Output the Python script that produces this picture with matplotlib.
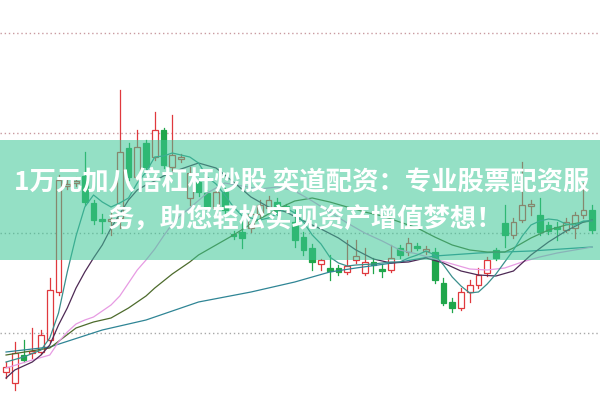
import matplotlib.pyplot as plt
from matplotlib.patches import Rectangle

plt.rcParams['font.family'] = ['Noto Sans CJK SC', 'DejaVu Sans']

# K线数据（开 / 高 / 低 / 收）
opens = [6.1, 5.0, 7.8, 8.0, 8.1, 9.3, 14.1, 24.7, 25.0, 25.7,
         23.0, 21.4, 21.2, 21.5, 28.5, 25.6, 29.0, 27.6, 30.3, 26.6,
         27.4, 23.5, 25.1, 24.0, 22.5, 24.1, 19.9, 20.1, 20.5, 21.9,
         22.5, 23.1, 22.7, 21.1, 19.6, 18.5, 16.9, 16.5, 16.5, 16.1,
         17.3, 16.0, 17.1, 16.4, 16.3, 18.5, 18.1, 18.7, 18.2, 18.1,
         15.0, 13.1, 12.5, 14.1, 14.8, 16.0, 18.3, 21.0, 19.8, 21.3,
         22.7, 21.8, 20.8, 20.6, 20.3, 20.5, 21.8, 22.3]
highs = [7.1, 9.1, 9.3, 10.5, 10.3, 15.5, 25.8, 25.4, 25.6, 28.1,
         23.3, 21.9, 22.0, 34.3, 29.0, 30.3, 29.3, 32.1, 30.5, 31.8,
         27.9, 26.6, 25.5, 24.3, 24.5, 24.5, 20.2, 21.3, 22.3, 23.3,
         23.7, 23.5, 22.9, 22.3, 20.1, 18.9, 17.4, 17.8, 16.8, 19.3,
         19.3, 18.5, 17.5, 16.9, 18.8, 18.8, 19.5, 19.0, 18.7, 18.5,
         15.5, 13.5, 14.5, 15.3, 16.5, 17.6, 18.5, 22.8, 21.5, 27.1,
         23.3, 23.5, 21.1, 21.1, 21.5, 22.1, 25.0, 22.8]
lows = [5.5, 4.3, 7.1, 7.5, 7.9, 9.1, 13.8, 24.4, 24.7, 22.8,
        20.9, 20.0, 19.8, 20.5, 25.3, 25.3, 26.3, 27.3, 26.5, 26.3,
        27.1, 22.8, 23.7, 22.3, 22.1, 21.9, 19.4, 18.5, 20.1, 21.5,
        22.2, 21.8, 22.1, 18.6, 17.8, 16.3, 16.3, 15.3, 15.8, 15.9,
        17.0, 15.8, 16.0, 15.6, 16.1, 17.5, 17.8, 18.3, 17.9, 15.0,
        12.8, 12.1, 12.3, 13.1, 14.5, 15.7, 17.3, 18.6, 19.5, 21.1,
        21.8, 19.8, 19.9, 19.3, 20.1, 19.5, 21.5, 20.0]
closes = [6.6, 8.0, 7.3, 8.2, 9.8, 14.3, 25.3, 24.9, 25.2, 23.1,
          21.3, 21.2, 21.4, 28.1, 25.6, 28.6, 26.6, 30.3, 26.8, 27.8,
          27.6, 26.0, 24.1, 22.6, 24.1, 22.3, 19.7, 19.5, 21.9, 22.8,
          23.3, 22.1, 22.4, 19.3, 18.3, 17.1, 17.3, 16.2, 16.1, 16.7,
          17.7, 17.1, 16.8, 16.2, 17.5, 17.8, 19.0, 18.5, 18.4, 15.3,
          13.0, 12.5, 14.1, 14.8, 15.8, 17.3, 17.5, 19.8, 21.1, 22.8,
          22.9, 20.1, 20.2, 20.4, 21.1, 21.8, 22.3, 20.3]

# 均线（在图上读取的点）
ma5_x = [0, 2, 4, 5, 6, 7, 8, 9, 10, 11, 12, 13, 14, 15, 16, 17, 18, 19, 20,
         21, 22, 23, 24, 25, 26, 27, 28, 29, 30, 31, 32, 33, 34, 35, 36, 37,
         38, 39, 40, 42, 44, 45, 46, 47, 48, 49, 50, 51, 52, 53, 54, 55, 56,
         57, 58, 59, 60, 61, 62, 63, 64, 65, 66, 67]
ma5_y = [7.1, 7.6, 8.3, 9.5, 12.0, 16.1, 19.7, 22.6, 23.8, 23.1, 22.6, 23.0,
         23.5, 25.0, 26.1, 27.6, 27.7, 28.0, 27.8, 27.6, 27.0, 25.6, 24.9,
         23.8, 22.6, 21.7, 21.5, 21.3, 21.5, 21.9, 22.5, 22.0, 21.1, 19.8,
         18.9, 17.6, 17.0, 16.7, 16.8, 16.9, 17.1, 17.1, 17.5, 17.8, 18.2,
         17.8, 16.8, 15.6, 14.7, 14.0, 14.1, 14.9, 15.9, 17.1, 18.3, 19.7,
         20.8, 21.2, 21.4, 21.3, 20.9, 20.8, 21.2, 21.2]

ma10_x = [0, 1, 2, 3, 4, 5, 6, 7, 8, 9, 10, 11, 12, 13, 14, 15, 16, 17, 18,
          20, 22, 24, 26, 28, 30, 32, 34, 36, 38, 40, 42, 44, 46, 48, 50, 52,
          54, 56, 58, 60, 62, 64, 66, 67]
ma10_y = [5.5, 6.3, 6.7, 7.1, 7.8, 8.8, 10.8, 12.5, 14.5, 16.1, 17.5, 18.8,
          20.5, 21.9, 23.3, 24.3, 24.8, 25.2, 25.7, 26.4, 27.0, 26.5, 25.1,
          23.6, 22.6, 22.1, 21.2, 20.4, 19.5, 18.3, 17.4, 17.0, 17.1, 17.5,
          17.0, 16.2, 15.8, 15.7, 16.2, 17.8, 19.1, 20.2, 21.1, 21.3]

ma20_x = [0, 3, 5, 6, 7, 8, 9, 10, 11, 12, 13, 14, 15, 16, 17, 18, 19, 20,
          21, 23, 25, 27, 29, 31, 33, 35, 37, 39, 41, 43, 45, 47, 49, 51, 53,
          55, 57, 59, 61, 63, 65, 67]
ma20_y = [6.5, 7.3, 7.8, 9.1, 10.1, 10.9, 11.3, 11.6, 12.2, 12.8, 13.7, 15.0,
          16.3, 17.3, 18.4, 19.7, 20.9, 21.8, 22.5, 24.0, 25.0, 24.7, 24.4,
          24.6, 24.2, 23.2, 22.1, 21.0, 20.0, 19.2, 18.3, 17.9, 17.4, 16.9,
          16.4, 16.3, 16.5, 17.1, 17.6, 18.0, 18.3, 18.6]

ma30_x = [0, 5, 8, 10, 12, 14, 16, 17, 19, 21, 22, 24, 26, 28, 29, 31, 33,
          35, 37, 39, 41, 43, 45, 47, 49, 51, 53, 55, 57, 58, 60, 62, 64, 66,
          67]
ma30_y = [7.8, 8.5, 10.5, 11.1, 11.5, 12.5, 13.7, 14.5, 15.9, 17.1, 17.8,
          18.8, 19.8, 20.9, 21.4, 22.4, 23.2, 23.5, 23.1, 22.6, 22.1, 21.7,
          21.1, 20.5, 19.6, 18.8, 18.3, 18.1, 18.1, 18.5, 19.5, 20.3, 20.8,
          21.1, 21.2]

ma60_x = [0, 5, 11, 16, 22, 28, 33, 37, 40, 45, 49, 54, 60, 67]
ma60_y = [8.1, 8.6, 10.3, 11.3, 13.1, 14.1, 15.1, 16.1, 16.5, 17.1, 17.7,
          18.0, 18.2, 18.6]

grid_levels = [10, 20, 30, 40]

titre_1 = '1万元加八倍杠杆炒股 奕道配资：专业股票配资服'
titre_2 = '务，助您轻松实现资产增值梦想！'

fig = plt.figure(figsize=(6, 4), dpi=100)
ax = fig.add_axes([0, 0, 1, 1])
ax.set_xlim(-0.69, 67.89)
ax.set_ylim(3.3, 43.3)
ax.axis('off')

# grille pointillée
for g in grid_levels:
    col = '#c99aa0' if g >= 30 else '#a8a8a8'
    ax.axhline(g, color=col, lw=1, linestyle=(0, (1, 2)), zorder=1)

# bougies
rouge = '#e0393e'
vert = '#20a64b'
w = 0.66
for i in range(len(opens)):
    o, h, l, c = opens[i], highs[i], lows[i], closes[i]
    bas = min(o, c)
    haut = max(o, c)
    if haut - bas < 0.12:
        haut = bas + 0.12
    if c >= o:
        ax.plot([i, i], [l, h], color=rouge, lw=0.9, zorder=2)
        ax.add_patch(Rectangle((i - w / 2, bas), w, haut - bas,
                               facecolor='white', edgecolor=rouge,
                               lw=0.9, zorder=3))
    else:
        ax.plot([i, i], [l, h], color=vert, lw=0.9, zorder=2)
        ax.add_patch(Rectangle((i - w / 2, bas), w, haut - bas,
                               facecolor=vert, edgecolor=vert,
                               lw=0.9, zorder=3))

# moyennes mobiles
ax.plot(ma60_x, ma60_y, color='#2f8595', lw=0.9, zorder=4)
ax.plot(ma30_x, ma30_y, color='#4d6b2c', lw=0.9, zorder=4)
ax.plot(ma20_x, ma20_y, color='#e79be3', lw=0.9, zorder=4)
ax.plot(ma10_x, ma10_y, color='#4e2a55', lw=0.9, zorder=4)
ax.plot(ma5_x, ma5_y, color='#3a8f8c', lw=0.9, zorder=4)

# bandeau semi-transparent
ax.add_patch(Rectangle((0, 0.35), 1, 0.3, transform=ax.transAxes,
                       facecolor='#3cc896', alpha=0.55, lw=0, zorder=10))
ax.text(0.502, 0.545, titre_1, transform=ax.transAxes, ha='center',
        va='center', color='white', fontsize=19, fontweight='bold', zorder=11)
ax.text(0.51, 0.45, titre_2, transform=ax.transAxes, ha='center',
        va='center', color='white', fontsize=19, fontweight='bold', zorder=11)

plt.savefig('out.png', dpi=100)
